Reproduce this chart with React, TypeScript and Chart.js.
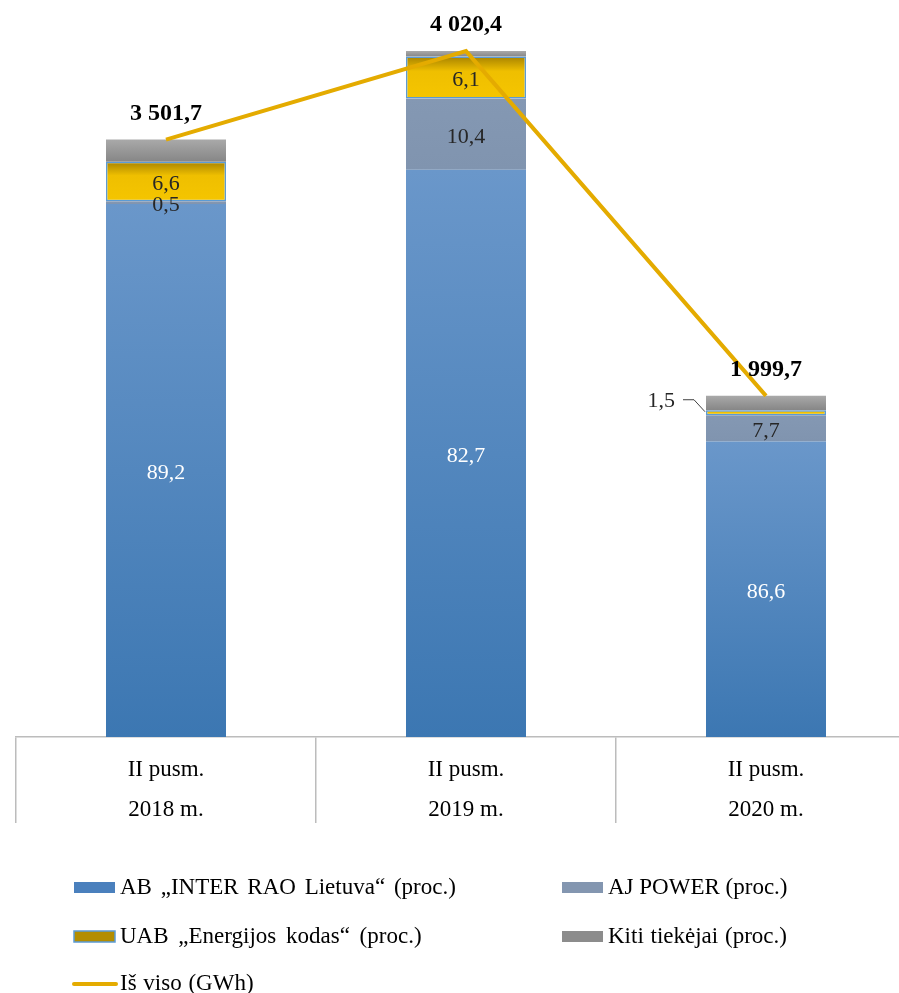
import React, { useEffect, useRef } from "react";
import { Chart, registerables } from "chart.js";

Chart.register(...registerables);

// ---------- DATA ----------
const categories = [
  ["II pusm.", "2018 m."],
  ["II pusm.", "2019 m."],
  ["II pusm.", "2020 m."],
];
const interRaoPct = [89.2, 82.7, 86.6];
const ajPowerPct = [0.5, 10.4, 7.7];
const energijosKodasPct = [6.6, 6.1, 1.5];
const kitiPct = [3.7, 0.8, 4.2];
const totalGWh = [3501.7, 4020.4, 1999.7];

const seriesLabels = [
  "AB „INTER RAO Lietuva“ (proc.)",
  "AJ POWER (proc.)",
  "UAB „Energijos kodas“ (proc.)",
  "Kiti tiekėjai (proc.)",
];
const totalLabel = "Iš viso (GWh)";

// ---------- STYLE ----------
const FONT = "'Liberation Serif', 'Times New Roman', serif";
const barStops = [
  [[0, "#6a97ca"], [1, "#3c77b2"]],
  [[0, "#8498b3"], [1, "#8094af"]],
  [[0, "#a88300"], [0.35, "#efbf00"], [1, "#f5c500"]],
  [[0, "#a9a9a9"], [1, "#868686"]],
] as [number, string][][];
const legendColors = ["#4a80bd", "#8396b0", "#b38d00", "#8c8c8c"];
const labelColors = ["#ffffff", "#262626", "#262626", "#262626"];
const showSegLabels = [true, true, true, false];
const lineColor = "#e4ab00";
const yellowBorder = "#5b9bd5";

const pctSeries = [interRaoPct, ajPowerPct, energijosKodasPct, kitiPct];

const fmtNum = (v: number) => {
  const [i, d] = v.toFixed(1).split(".");
  return i.replace(/\B(?=(\d{3})+(?!\d))/g, " ") + "," + d;
};

function gwh(s: number, i: number) {
  return (pctSeries[s][i] / 100) * totalGWh[i];
}

function makeGradient(c: any, s: number) {
  const chart = c.chart;
  const stops = barStops[s];
  if (!chart.chartArea || c.dataIndex === undefined) return stops[stops.length - 1][1];
  const y = chart.scales.y;
  let bottom = 0;
  for (let k = 0; k < s; k++) bottom += gwh(k, c.dataIndex);
  const top = bottom + gwh(s, c.dataIndex);
  const py0 = y.getPixelForValue(top);
  const py1 = y.getPixelForValue(bottom);
  if (!isFinite(py0) || !isFinite(py1) || py0 === py1) return stops[stops.length - 1][1];
  const g = chart.ctx.createLinearGradient(0, py0, 0, py1);
  stops.forEach(([o, col]) => g.addColorStop(o, col));
  return g;
}

const labelsPlugin = {
  id: "customLabels",
  afterDatasetsDraw(chart: any) {
    const ctx = chart.ctx;
    ctx.save();
    for (let s = 0; s < 4; s++) {
      if (!showSegLabels[s]) continue;
      const meta = chart.getDatasetMeta(s);
      meta.data.forEach((el: any, i: number) => {
        const v = pctSeries[s][i];
        const text = fmtNum(v);
        const cy = (el.y + el.base) / 2;
        const h = Math.abs(el.base - el.y);
        ctx.font = `22px ${FONT}`;
        ctx.textBaseline = "middle";
        if (s === 2 && h < 8) {
          // callout to the left
          const left = el.x - el.width / 2;
          ctx.strokeStyle = "#404040";
          ctx.lineWidth = 1;
          ctx.beginPath();
          ctx.moveTo(left - 23, cy - 13);
          ctx.lineTo(left - 12, cy - 13);
          ctx.lineTo(left - 1, cy - 1);
          ctx.stroke();
          ctx.fillStyle = "#262626";
          ctx.textAlign = "right";
          ctx.fillText(text, left - 31, cy - 12);
        } else {
          ctx.fillStyle = labelColors[s];
          ctx.textAlign = "center";
          ctx.fillText(text, el.x, cy + 3);
        }
      });
    }
    // totals
    const lineMeta = chart.getDatasetMeta(4);
    lineMeta.data.forEach((pt: any, i: number) => {
      ctx.font = `bold 24px ${FONT}`;
      ctx.fillStyle = "#000";
      ctx.textAlign = "center";
      ctx.textBaseline = "middle";
      ctx.fillText(fmtNum(totalGWh[i]), pt.x, pt.y - 26);
    });
    ctx.restore();
  },
  afterDraw(chart: any) {
    const ctx = chart.ctx;
    const base = chart.chartArea.bottom;
    const xScale = chart.scales.x;
    ctx.save();
    // category labels (two lines) inside the table-like axis area
    ctx.font = `23px ${FONT}`;
    ctx.fillStyle = "#000";
    ctx.textAlign = "center";
    ctx.textBaseline = "alphabetic";
    categories.forEach((lines, i) => {
      const x = xScale.getPixelForTick(i);
      lines.forEach((t, j) => ctx.fillText(t, x, base + 39 + j * 40));
    });

    // legend
    const rows = [base + 151, base + 200, base + 247];
    const cols = [74, 562];
    const items = [
      { t: seriesLabels[0], c: 0, r: 0, k: 0, ws: 3 },
      { t: seriesLabels[1], c: 1, r: 0, k: 1, ws: 0 },
      { t: seriesLabels[2], c: 0, r: 1, k: 2, ws: 4 },
      { t: seriesLabels[3], c: 1, r: 1, k: 3, ws: 1 },
      { t: totalLabel, c: 0, r: 2, k: 4, ws: 1 },
    ];
    items.forEach((it) => {
      const x = cols[it.c];
      const y = rows[it.r];
      if (it.k === 4) {
        ctx.strokeStyle = lineColor;
        ctx.lineWidth = 4;
        ctx.lineCap = "round";
        ctx.beginPath();
        ctx.moveTo(x, y);
        ctx.lineTo(x + 42, y);
        ctx.stroke();
      } else {
        ctx.fillStyle = legendColors[it.k];
        ctx.fillRect(x, y - 6, 41, 11);
        if (it.k === 2) {
          ctx.strokeStyle = yellowBorder;
          ctx.lineWidth = 1.5;
          ctx.strokeRect(x, y - 6, 41, 11);
        }
      }
      ctx.font = `23px ${FONT}`;
      (ctx as any).wordSpacing = `${it.ws}px`;
      ctx.fillStyle = "#000";
      ctx.textAlign = "left";
      ctx.textBaseline = "middle";
      ctx.fillText(it.t, x + 46, y);
      (ctx as any).wordSpacing = "0px";
    });
    ctx.restore();
  },
};

export default function App() {
  const ref = useRef<HTMLCanvasElement | null>(null);

  useEffect(() => {
    if (!ref.current) return;
    const barDatasets = pctSeries.map((arr, s) => ({
      type: "bar" as const,
      label: seriesLabels[s],
      data: arr.map((_, i) => gwh(s, i)),
      backgroundColor: (c: any) => makeGradient(c, s),
      borderColor: s === 2 ? yellowBorder : "rgba(0,0,0,0)",
      borderWidth: s === 2 ? 1.5 : 0,
      borderSkipped: false as const,
      stack: "bars",
      order: 1,
      barPercentage: 0.4,
      categoryPercentage: 1,
    }));
    const chart = new Chart(ref.current, {
      data: {
        labels: categories,
        datasets: [
          ...barDatasets,
          {
            type: "line" as const,
            label: totalLabel,
            data: totalGWh,
            borderColor: lineColor,
            borderWidth: 4,
            pointRadius: 0,
            tension: 0,
            stack: "total",
            order: 0,
          } as any,
        ],
      },
      options: {
        responsive: false,
        animation: false,
        layout: { padding: { left: 16, right: 4, top: 0, bottom: 170 } },
        plugins: { legend: { display: false }, tooltip: { enabled: false } },
        scales: {
          x: {
            stacked: true,
            offset: true,
            grid: {
              offset: true,
              drawOnChartArea: false,
              drawTicks: true,
              tickLength: 86,
              color: "#bcbcbc",
              lineWidth: 1.5,
            },
            border: { display: true, color: "#bcbcbc", width: 1.5 },
            ticks: { display: false },
          },
          y: { stacked: true, display: false, min: 0, max: 4320 },
        },
      },
      plugins: [labelsPlugin],
    });
    return () => chart.destroy();
  }, []);

  return (
    <div
      style={{
        position: "fixed",
        left: 0,
        top: 0,
        width: 899,
        height: 993,
        overflow: "hidden",
        background: "#fff",
      }}
    >
      <canvas ref={ref} width={920} height={993} style={{ display: "block" }} />
    </div>
  );
}
